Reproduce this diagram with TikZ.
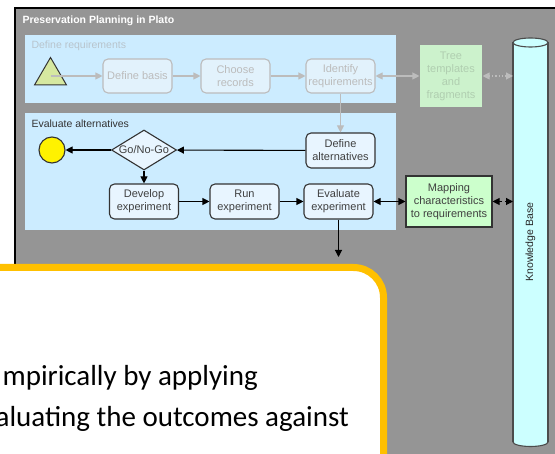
\documentclass[tikz,border=0pt]{standalone}
\usepackage{fontspec}
\setmainfont{Liberation Sans}
\newfontfamily\calloutfont{Carlito}
\usetikzlibrary{arrows.meta,shapes.geometric}
\usepackage{color}

\definecolor{panelgray}{RGB}{149,149,149}
\definecolor{laneblue}{RGB}{204,236,255}
\definecolor{boxblue}{RGB}{232,245,255}
\definecolor{oldbox}{RGB}{226,242,252}
\definecolor{oldline}{RGB}{188,188,188}
\definecolor{oldtext}{RGB}{184,196,204}
\definecolor{mapgreen}{RGB}{204,255,204}
\definecolor{treegreen}{RGB}{204,242,204}
\definecolor{treetext}{RGB}{176,206,176}
\definecolor{kbcyan}{RGB}{204,255,255}
\definecolor{trigreen}{RGB}{214,232,160}
\definecolor{callorange}{RGB}{255,192,0}

\tikzset{
  task/.style={draw=black!80,fill=boxblue,rounded corners=5pt,line width=1.1pt,
    minimum width=69pt,minimum height=35pt,align=center,inner sep=1pt,
    text=black!75,font=\fontsize{11}{13}\selectfont},
  oldtask/.style={task,draw=oldline,fill=oldbox,text=oldline},
  flow/.style={-{Triangle[length=7pt,width=7pt]},line width=1.1pt},
  oldflow/.style={flow,draw=oldline,color=oldline},
  lane/.style={fill=laneblue},
  lanelabel/.style={anchor=west,font=\fontsize{10.5}{12}\selectfont},
  kbline/.style={draw=black!70,line width=1.1pt}
}

\begin{document}
\begin{tikzpicture}[x=1pt,y=-1pt]
\useasboundingbox (0,0) rectangle (555,454);
\clip (0,0) rectangle (555,454);

% frame and lanes
\draw[line width=1.8pt,fill=panelgray] (15,8) rectangle (570,470);
\node[anchor=west,text=white,font=\bfseries\fontsize{10.5}{12}\selectfont] (title) at (19,20.5) {Preservation Planning in Plato};
\fill[lane] (25,35) rectangle (396,103);
\fill[lane] (25,113) rectangle (396,230);
\node[lanelabel,text=oldtext] (req) at (28,45.5) {Define requirements};
\node[lanelabel,text=black!80] (alt) at (28,124) {Evaluate alternatives};

% knowledge base
\coordinate (kbtop) at (530.5,42.5);
\coordinate (kbbot) at (530.5,442);
\draw[kbline,fill=kbcyan] (kbbot) ellipse (17.5pt and 4.5pt);
\node[fill=kbcyan,minimum width=399.5pt,minimum height=35pt,outer sep=0pt,rotate=90,
  font=\fontsize{10.5}{12}\selectfont,text=black!85] (kb) at (530.5,242.25) {Knowledge Base};
\draw[kbline] (kb.north west)--(kb.north east);
\draw[kbline] (kb.south west)--(kb.south east);
\draw[kbline,fill=kbcyan] (kbtop) ellipse (17.5pt and 4.5pt);

% define requirements (faded)
\coordinate (tri) at (50.5,76);
\draw[line width=1pt,draw=black!80,fill=trigreen] (34.5,85)--(66.5,85)--(50.5,57.5)--cycle;
\node[oldtask,minimum height=34pt] (basis) at (137.5,76) {Define basis};
\node[oldtask,minimum height=34pt] (records) at (235.5,76) {Choose\\records};
\node[oldtask,minimum height=34pt] (identify) at (340.5,76) {Identify\\requirements};
\node[task,rounded corners=0pt,draw=none,fill=treegreen,text=treetext,
  minimum width=62pt,minimum height=62pt] (tree) at (451,76) {Tree\\templates\\and\\fragments};

% evaluate alternatives
\node[task] (defalt) at (340.5,150.5) {Define\\alternatives};
\node[diamond,draw=black!80,fill=boxblue,line width=1.1pt,inner sep=0pt,aspect=1.7,
  minimum width=65pt,minimum height=40pt,text=black!75,font=\fontsize{11}{13}\selectfont] (gonogo) at (144,150) {Go/No-Go};
\node[circle,draw=black!80,fill=yellow,line width=1.1pt,minimum size=26pt] (goal) at (52,150) {};
\node[task] (develop) at (144,201.5) {Develop\\experiment};
\node[task] (run) at (244.5,201.5) {Run\\experiment};
\node[task] (evaluate) at (338.5,201.5) {Evaluate\\experiment};
\node[task,rounded corners=0pt,fill=mapgreen,minimum width=86pt,minimum height=51pt] (mapping) at (449,201.5) {Mapping\\characteristics\\to requirements};
\coordinate (outcome) at (338.5,257);

% connectors
\draw[oldflow] (tri)--(basis);
\draw[oldflow] (basis)--(records);
\draw[oldflow] (records)--(identify);
\draw[oldflow,{Triangle[length=7pt,width=7pt]}-{Triangle[length=7pt,width=7pt]}] (identify)--(tree);
\draw[oldflow,dotted,{Triangle[length=7pt,width=7pt]}-{Triangle[length=7pt,width=7pt]}] (tree)--(tree -| kb.north);
\draw[oldflow] (identify)--(defalt);
\draw[flow] (defalt)--(gonogo);
\draw[flow] (gonogo)--(goal);
\draw[flow] (gonogo)--(develop);
\draw[flow] (develop)--(run);
\draw[flow] (run)--(evaluate);
\draw[flow,{Triangle[length=7pt,width=7pt]}-{Triangle[length=7pt,width=7pt]}] (evaluate)--(mapping);
\draw[flow,dashed,{Triangle[length=7pt,width=7pt]}-{Triangle[length=7pt,width=7pt]}] (mapping)--(mapping -| kb.north);
\draw[flow] (evaluate)--(outcome);

% callout
\draw[line width=7pt,draw=callorange,fill=white,rounded corners=30pt] (-40,267.5) rectangle (383.5,520);
\node[anchor=base east,inner sep=0pt,font=\calloutfont\fontsize{29}{35}\selectfont] (line1) at (258,386) {mpirically by applying};
\node[anchor=base east,inner sep=0pt,font=\calloutfont\fontsize{29}{35}\selectfont] (line2) at (349,426.5) {aluating the outcomes against};
\end{tikzpicture}
\end{document}
